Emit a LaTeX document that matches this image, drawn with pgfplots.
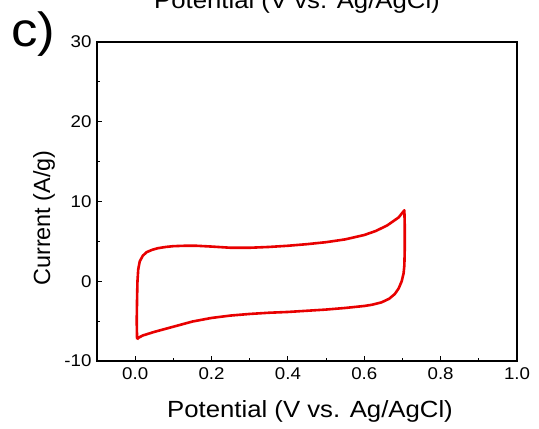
\documentclass[border=0pt]{standalone}
\usepackage{pgfplots}
\pgfplotsset{compat=1.18}
\usepackage{fontspec}
\setmainfont{Liberation Sans}[FakeStretch=1.1]
\newfontfamily\plainfont{Liberation Sans}
\definecolor{cvred}{RGB}{232,0,0}
\newcommand\tlfont{\fontsize{17}{19}\selectfont}
\begin{document}
\begin{tikzpicture}[x=1pt,y=1pt]
\path[use as bounding box] (0,0) rectangle (539,429);
\clip (0,0) rectangle (539,429);
\begin{axis}[
  at={(97pt,68pt)}, anchor=south west,
  scale only axis, width=420pt, height=319pt,
  xmin=-0.1, xmax=1.0, ymin=-10, ymax=30,
  xtick={0,0.2,...,1.0}, ytick={-10,0,10,20,30},
  minor x tick num=1, minor y tick num=1,
  tick align=inside, tick pos=left,
  major tick length=5pt, minor tick length=3pt,
  axis line style={line width=1.2pt}, every tick/.style={line width=1pt, black},
  /pgf/number format/assume math mode=true,
  xticklabel={\tlfont\pgfmathprintnumber[fixed,fixed zerofill,precision=1,assume math mode=true]{\tick}},
  yticklabel={\tlfont\pgfmathprintnumber[assume math mode=true]{\tick}},
  xticklabel style={yshift=-3pt},
  yticklabel style={xshift=-2pt},
  every axis plot/.append style={line join=round},
]
\addplot[cvred, line width=2.6pt] coordinates {
(0.005,-7.3) (0.004,-5) (0.005,-2) (0.006,0) (0.008,1.5) (0.012,2.5) (0.02,3.2) (0.03,3.65) (0.045,3.95) (0.06,4.15) (0.08,4.3) (0.1,4.4) (0.13,4.45) (0.16,4.45) (0.2,4.35) (0.25,4.2) (0.3,4.2) (0.35,4.3) (0.4,4.45) (0.45,4.65) (0.5,4.9) (0.55,5.25) (0.6,5.8) (0.63,6.3) (0.66,7.0) (0.69,8.0) (0.705,8.9)
(0.706,7) (0.706,4) (0.705,2) (0.703,1) (0.698,0) (0.69,-0.9) (0.68,-1.6) (0.665,-2.2) (0.645,-2.65) (0.62,-2.95) (0.6,-3.1) (0.55,-3.35) (0.5,-3.55) (0.45,-3.7) (0.4,-3.85) (0.35,-3.95) (0.3,-4.1) (0.25,-4.3) (0.2,-4.6) (0.15,-5.05) (0.1,-5.7) (0.05,-6.35) (0.02,-6.8) (0.008,-7.1) (0.005,-7.3)
};
\end{axis}
\node[anchor=base, font=\fontsize{23.4}{26}\selectfont] at (297,420) {Potential (V vs. Ag/AgCl)};
\node[anchor=base, font=\fontsize{23.4}{26}\selectfont] at (310,11) {Potential (V vs. Ag/AgCl)};
\node[rotate=90, font=\plainfont\fontsize{23.4}{26}\selectfont] at (44,211) {Current (A/g)};
\node[anchor=base west, font=\fontsize{48}{52}\selectfont, inner sep=0pt] at (11,382) {c)};
\end{tikzpicture}
\end{document}
